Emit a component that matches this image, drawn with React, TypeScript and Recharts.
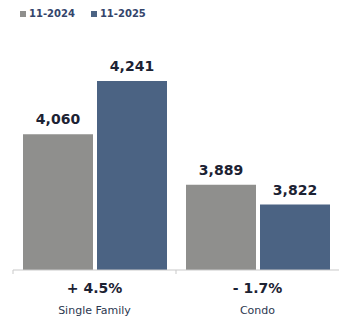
import { BarChart, Bar, XAxis, YAxis, LabelList } from 'recharts';

const categories = ['Single Family', 'Condo'];
const values2024 = [4060, 3889];
const values2025 = [4241, 3822];
const changes = ['+ 4.5%', '- 1.7%'];
const seriesNames = ['11-2024', '11-2025'];

const GRAY = '#8f8f8d';
const BLUE = '#4b6383';
const INK = '#1c2233';
const FONT = '"DejaVu Sans", sans-serif';

const data = categories.map((name, i) => ({
  name,
  y2024: values2024[i],
  y2025: values2025[i],
  change: changes[i]
}));

const fmt = (v: number) => new Intl.NumberFormat('en-US').format(v);

const CategoryTick = ({ x, y, payload, index }: any) => {
  const row = data[index] ?? data.find((d) => d.name === payload.value);
  return (
    <g>
      <line x1={x - 81.5} x2={x - 81.5} y1={y - 8} y2={y - 4} stroke="#c9c9c9" />
      <text x={x} y={y + 15} textAnchor="middle" fontFamily={FONT} fontWeight="bold" fontSize={14} fill={INK}>
        {row?.change}
      </text>
      <text x={x} y={y + 36} textAnchor="middle" fontFamily={FONT} fontSize={11} fill="#2c3850">
        {payload.value}
      </text>
    </g>
  );
};

export default function App() {
  return (
    <div style={{ position: 'absolute', left: 0, top: 0, width: 339, height: 320, background: '#fff' }}>
      <div
        style={{
          position: 'absolute',
          left: 20,
          top: 8,
          display: 'flex',
          alignItems: 'center',
          fontFamily: FONT,
          fontWeight: 'bold',
          fontSize: 10,
          color: '#34456b'
        }}
      >
        {seriesNames.map((s, i) => (
          <span key={s} style={{ display: 'flex', alignItems: 'center', marginRight: i === 0 ? 16 : 0 }}>
            <span style={{ width: 6, height: 6, background: i === 0 ? GRAY : BLUE, marginRight: 3, display: 'inline-block' }} />
            {s}
          </span>
        ))}
      </div>
      <BarChart
        width={339}
        height={320}
        data={data}
        margin={{ top: 34, right: 0, left: 13, bottom: 5 }}
        barCategoryGap={10}
        barGap={4}
      >
        <XAxis
          dataKey="name"
          height={45}
          axisLine={{ stroke: '#c9c9c9' }}
          tickLine={false}
          tick={<CategoryTick />}
          interval={0}
        />
        <YAxis hide domain={[3600, 4400]} />
        <Bar dataKey="y2024" fill={GRAY} isAnimationActive={false}>
          <LabelList
            dataKey="y2024"
            position="top"
            offset={10}
            formatter={(v: any) => fmt(v)}
            style={{ fontFamily: FONT, fontWeight: 'bold', fontSize: 14, fill: INK }}
          />
        </Bar>
        <Bar dataKey="y2025" fill={BLUE} isAnimationActive={false}>
          <LabelList
            dataKey="y2025"
            position="top"
            offset={10}
            formatter={(v: any) => fmt(v)}
            style={{ fontFamily: FONT, fontWeight: 'bold', fontSize: 14, fill: INK }}
          />
        </Bar>
      </BarChart>
    </div>
  );
}
